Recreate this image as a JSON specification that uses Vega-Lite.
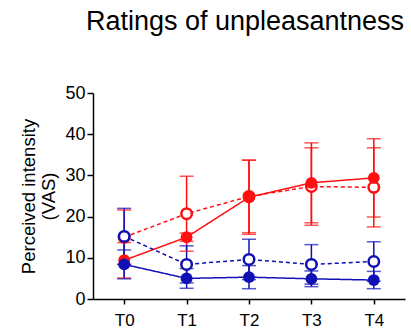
{
  "$schema": "https://vega.github.io/schema/vega-lite/v6.json",
  "autosize": "none",
  "width": 312,
  "height": 206,
  "padding": {"left": 93, "top": 93, "right": 6, "bottom": 34},
  "background": "white",
  "config": {"font": "Liberation Sans", "view": {"stroke": null}},
  "title": {"text": "Ratings of unpleasantness", "fontSize": 27, "fontWeight": "normal", "color": "black", "offset": 48, "anchor": "middle", "dx": -4},
  "data": {"values": [
    {"time": "T0", "group": "red_filled", "mean": 9.4, "lo": 5.1, "hi": 13.7},
    {"time": "T1", "group": "red_filled", "mean": 15.0, "lo": 14.0, "hi": 16.0},
    {"time": "T2", "group": "red_filled", "mean": 24.7, "lo": 15.7, "hi": 33.7},
    {"time": "T3", "group": "red_filled", "mean": 28.2, "lo": 18.5, "hi": 37.9},
    {"time": "T4", "group": "red_filled", "mean": 29.4, "lo": 19.9, "hi": 38.9},
    {"time": "T0", "group": "red_open", "mean": 15.0, "lo": 8.4, "hi": 21.6},
    {"time": "T1", "group": "red_open", "mean": 20.7, "lo": 11.6, "hi": 29.8},
    {"time": "T2", "group": "red_open", "mean": 24.9, "lo": 16.1, "hi": 33.7},
    {"time": "T3", "group": "red_open", "mean": 27.3, "lo": 17.9, "hi": 36.7},
    {"time": "T4", "group": "red_open", "mean": 27.1, "lo": 17.5, "hi": 36.7},
    {"time": "T0", "group": "blue_filled", "mean": 8.4, "lo": 4.9, "hi": 11.9},
    {"time": "T1", "group": "blue_filled", "mean": 5.0, "lo": 2.6, "hi": 7.4},
    {"time": "T2", "group": "blue_filled", "mean": 5.3, "lo": 2.5, "hi": 8.1},
    {"time": "T3", "group": "blue_filled", "mean": 4.9, "lo": 3.0, "hi": 6.8},
    {"time": "T4", "group": "blue_filled", "mean": 4.6, "lo": 2.5, "hi": 6.7},
    {"time": "T0", "group": "blue_open", "mean": 15.2, "lo": 8.4, "hi": 22.0},
    {"time": "T1", "group": "blue_open", "mean": 8.4, "lo": 3.9, "hi": 12.9},
    {"time": "T2", "group": "blue_open", "mean": 9.6, "lo": 4.7, "hi": 14.5},
    {"time": "T3", "group": "blue_open", "mean": 8.4, "lo": 3.6, "hi": 13.2},
    {"time": "T4", "group": "blue_open", "mean": 9.1, "lo": 4.3, "hi": 13.9}
  ]},
  "encoding": {
    "x": {"field": "time", "type": "ordinal", "scale": {"type": "point", "padding": 0.5},
          "axis": {"title": null, "labelAngle": 0, "labelFontSize": 17, "labelColor": "black", "domainColor": "black", "domainWidth": 1.5, "tickColor": "black", "tickWidth": 1.5, "tickSize": 5, "labelPadding": 8, "grid": false}},
    "color": {"field": "group", "type": "nominal", "legend": null,
              "scale": {"domain": ["blue_filled", "blue_open", "red_filled", "red_open"], "range": ["#1010b4", "#1010b4", "#ff0f0f", "#ff0f0f"]}}
  },
  "layer": [
    {
      "mark": {"type": "line", "strokeWidth": 1.5},
      "encoding": {
        "y": {"field": "mean", "type": "quantitative", "scale": {"domain": [0, 50]},
              "axis": {"title": ["Perceived intensity", "(VAS)"], "titleFontSize": 18.5, "titleFontWeight": "normal", "titleColor": "black", "titleLineHeight": 20, "titlePadding": 6, "values": [0, 10, 20, 30, 40, 50], "labelFontSize": 18, "labelColor": "black", "domainColor": "black", "domainWidth": 1.5, "tickColor": "black", "tickWidth": 1.5, "tickSize": 6, "labelPadding": 2, "grid": false}},
        "strokeDash": {"field": "group", "type": "nominal", "legend": null,
                       "scale": {"domain": ["blue_filled", "blue_open", "red_filled", "red_open"], "range": [[1, 0], [4, 3], [1, 0], [4, 3]]}},
        "detail": {"field": "group"}
      }
    },
    {
      "mark": {"type": "rule", "strokeWidth": 1.5},
      "encoding": {"y": {"field": "lo", "type": "quantitative"}, "y2": {"field": "hi"}}
    },
    {
      "mark": {"type": "tick", "thickness": 1.5, "size": 14},
      "encoding": {"y": {"field": "lo", "type": "quantitative"}}
    },
    {
      "mark": {"type": "tick", "thickness": 1.5, "size": 14},
      "encoding": {"y": {"field": "hi", "type": "quantitative"}}
    },
    {
      "transform": [{"filter": "indexof(datum.group, 'open') >= 0"}],
      "mark": {"type": "point", "shape": "circle", "filled": false, "fill": "white", "fillOpacity": 1, "strokeWidth": 2.5, "size": 110, "opacity": 1},
      "encoding": {"y": {"field": "mean", "type": "quantitative"}}
    },
    {
      "transform": [{"filter": "indexof(datum.group, 'filled') >= 0"}],
      "mark": {"type": "point", "shape": "circle", "filled": true, "size": 140, "opacity": 1},
      "encoding": {"y": {"field": "mean", "type": "quantitative"}}
    }
  ]
}
